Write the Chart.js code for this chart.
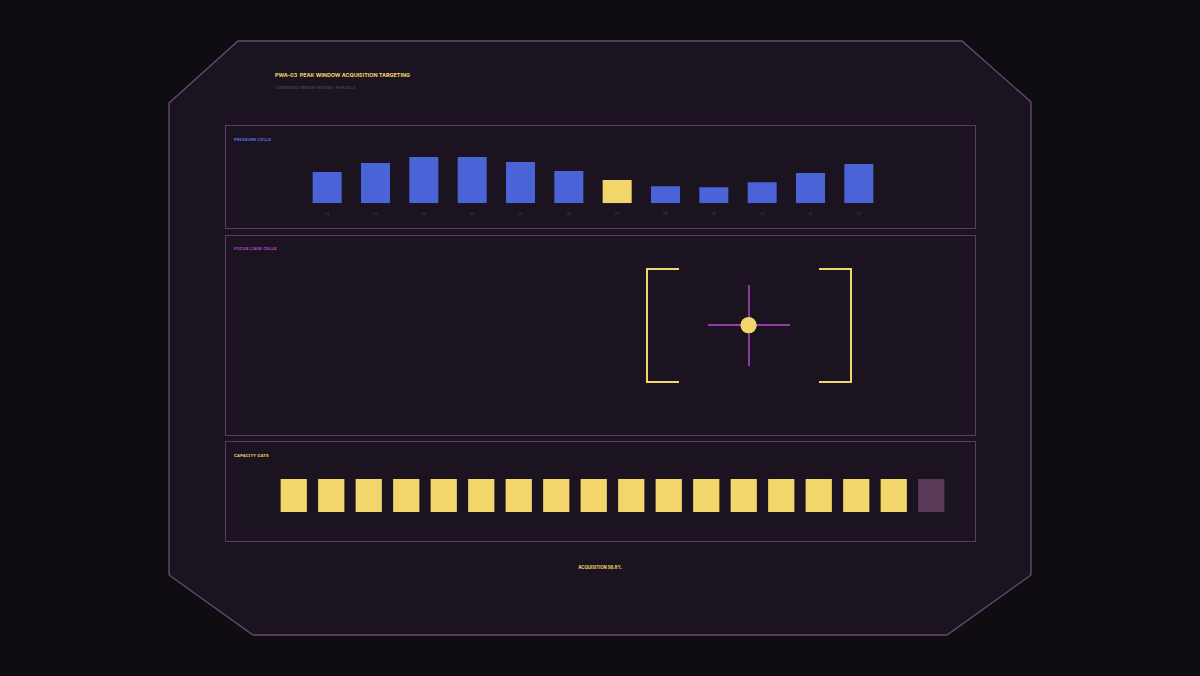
<!DOCTYPE html>
<html>
<head>
<meta charset="utf-8">
<script src="https://cdn.jsdelivr.net/npm/chart.js@4.4.0/dist/chart.umd.min.js"></script>
<style>
  html, body { margin: 0; padding: 0; background: #0f0d12; }
  body { width: 1200px; height: 676px; position: relative; overflow: hidden; font-family: "Inter", "DejaVu Sans", sans-serif; }
  svg.frame { position: absolute; left: 0; top: 0; }
  .panel { position: absolute; border: 1px solid #5e3b64; box-sizing: border-box; }
  .lbl { position: absolute; font-size: 4px; font-weight: 700; letter-spacing: 0.2px; white-space: nowrap; }
  .cv { position: absolute; }
  #title { position: absolute; left: 275px; top: 72px; font-size: 5.4px; font-weight: 700; color: #f2d46a; white-space: nowrap; }
  #sub { position: absolute; left: 275px; top: 86px; font-size: 3.2px; color: #6a5474; white-space: nowrap; }
  #foot { position: absolute; left: 0; width: 1200px; top: 565px; text-align: center; font-size: 4.3px; font-weight: 700; color: #f2d46a; }
</style>
</head>
<body>
<svg class="frame" width="1200" height="676">
  <polygon points="238,41 962,41 1031,102 1031,575 947,635 253,635 169,575 169,103"
           fill="#1b1420" stroke="#6b4a78" stroke-width="1.3"/>
</svg>
<div id="title">PWA-03&nbsp;&nbsp;PEAK WINDOW ACQUISITION TARGETING</div>
<div id="sub">CONVERGENCE WINDOW TARGETING · PEAK CELLS</div>

<div class="panel" style="left:225px;top:125px;width:751px;height:104px"></div>
<div class="lbl" style="left:234px;top:137px;color:#5a6ee0">PRESSURE CELLS</div>
<div class="cv" style="left:303px;top:143px;width:580px;height:81px"><canvas id="bars"></canvas></div>

<div class="panel" style="left:225px;top:235px;width:751px;height:201px"></div>
<div class="lbl" style="left:234px;top:246px;color:#b84cd0">FOCUS CAGE CELLS</div>
<div class="cv" style="left:226px;top:236px;width:749px;height:199px"><canvas id="focus"></canvas></div>

<div class="panel" style="left:225px;top:441px;width:751px;height:101px"></div>
<div class="lbl" style="left:234px;top:453px;color:#f2d46a">CAPACITY GATE</div>
<div class="cv" style="left:275px;top:479px;width:675px;height:33px"><canvas id="gate"></canvas></div>

<div id="foot">ACQUISITION 96.8%</div>

<script>
// pressure cells per window
var windows = ['01','02','03','04','05','06','07','08','09','10','11','12'];
var pressure = [31, 40, 46, 46, 41, 32, 23, 17, 16, 21, 30, 39];
var peakIndex = 6;

// focus target (panel percent coordinates)
var target = [{x: 70.2, y: 55.6}];

// capacity gate cells: 1 = acquired, 0 = open
var gateCells = [1,1,1,1,1,1,1,1,1,1,1,1,1,1,1,1,1,0];

var BLUE = '#4a64d8', YELLOW = '#f2d66b', MUTED = '#583a58', PURPLE = '#b44ed0';

new Chart(document.getElementById('bars'), {
  type: 'bar',
  data: {
    labels: windows,
    datasets: [{
      data: pressure,
      backgroundColor: pressure.map(function (v, i) { return i === peakIndex ? YELLOW : BLUE; }),
      categoryPercentage: 1,
      barPercentage: 0.6
    }]
  },
  options: {
    responsive: true, maintainAspectRatio: false, animation: false,
    plugins: { legend: { display: false }, tooltip: { enabled: false } },
    scales: {
      x: {
        grid: { display: false, drawTicks: false }, border: { display: false },
        ticks: { color: '#4e4058', font: { size: 4 }, padding: 8 }
      },
      y: { display: false, min: 0, max: 60 }
    }
  }
});

// reticle drawn around the target point
var reticle = {
  id: 'reticle',
  afterDatasetsDraw: function (chart) {
    var ctx = chart.ctx;
    var px = Math.round(chart.scales.x.getPixelForValue(target[0].x));
    var py = Math.round(chart.scales.y.getPixelForValue(target[0].y));
    ctx.save();
    ctx.strokeStyle = PURPLE; ctx.lineWidth = 1.4;
    ctx.beginPath();
    ctx.moveTo(px - 41, py); ctx.lineTo(px + 41, py);
    ctx.moveTo(px, py - 40); ctx.lineTo(px, py + 41);
    ctx.stroke();
    ctx.strokeStyle = YELLOW; ctx.lineWidth = 2;
    var hw = 102, top = py - 56, bot = py + 57, arm = 32;
    ctx.beginPath();
    ctx.moveTo(px - hw + arm, top); ctx.lineTo(px - hw, top); ctx.lineTo(px - hw, bot); ctx.lineTo(px - hw + arm, bot);
    ctx.moveTo(px + hw - arm, top); ctx.lineTo(px + hw, top); ctx.lineTo(px + hw, bot); ctx.lineTo(px + hw - arm, bot);
    ctx.stroke();
    ctx.restore();
    // point on top
    chart.getDatasetMeta(0).data.forEach(function (el) { el.draw(ctx); });
  }
};

new Chart(document.getElementById('focus'), {
  type: 'scatter',
  data: { datasets: [{ data: target, pointRadius: 8, backgroundColor: YELLOW, borderWidth: 0 }] },
  options: {
    responsive: true, maintainAspectRatio: false, animation: false,
    plugins: { legend: { display: false }, tooltip: { enabled: false } },
    scales: { x: { display: false, min: 0, max: 100 }, y: { display: false, min: 0, max: 100 } }
  },
  plugins: [reticle]
});

new Chart(document.getElementById('gate'), {
  type: 'bar',
  data: {
    labels: gateCells.map(function (v, i) { return 'G' + (i + 1); }),
    datasets: [{
      data: gateCells.map(function () { return 1; }),
      backgroundColor: gateCells.map(function (v) { return v ? YELLOW : MUTED; }),
      categoryPercentage: 1,
      barPercentage: 0.7
    }]
  },
  options: {
    responsive: true, maintainAspectRatio: false, animation: false,
    plugins: { legend: { display: false }, tooltip: { enabled: false } },
    scales: { x: { display: false }, y: { display: false, min: 0, max: 1 } }
  }
});
</script>
</body>
</html>
